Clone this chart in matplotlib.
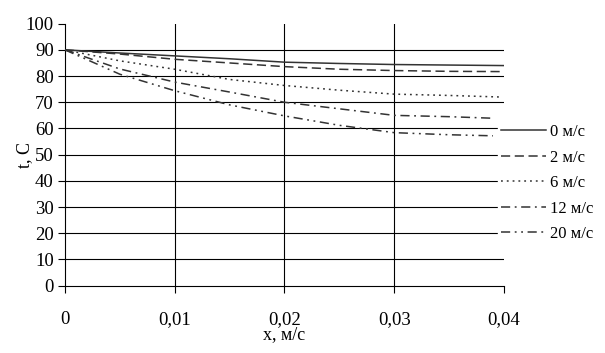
import matplotlib
matplotlib.use('Agg')
import matplotlib.pyplot as plt

# координата, м
x_full = [0, 0.005, 0.01, 0.015, 0.02, 0.025, 0.03, 0.035, 0.04]
x_short = [0, 0.005, 0.01, 0.015, 0.02, 0.025, 0.03, 0.035, 0.039]
x_dot = [0, 0.005, 0.01, 0.015, 0.02, 0.025, 0.03, 0.035, 0.0397]

# температура, C
t_0 = [90, 88.8, 87.7, 86.6, 85.3, 84.8, 84.4, 84.2, 84.0]
t_2 = [90, 88.4, 86.4, 85.0, 83.6, 82.6, 82.1, 81.8, 81.7]
t_6 = [90, 85.8, 82.6, 78.7, 76.4, 74.6, 73.1, 72.6, 72.0]
t_12 = [90, 82.7, 77.7, 73.9, 70.0, 67.5, 65.0, 64.5, 63.9]
t_20 = [90, 80.7, 74.4, 69.0, 64.8, 61.2, 58.4, 57.6, 57.2]

labels = ['0 м/с', '2 м/с', '6 м/с', '12 м/с', '20 м/с']
x_ticks = [0, 0.01, 0.02, 0.03, 0.04]
x_tick_labels = ['0', '0,01', '0,02', '0,03', '0,04']
y_ticks = list(range(0, 101, 10))

plt.rcParams['font.family'] = ['Liberation Serif', 'DejaVu Serif']

fig = plt.figure(figsize=(6.05, 3.53), dpi=100)
ax = fig.add_axes([0.1074, 0.1907, 0.7256, 0.7423])

# сетка
for yv in y_ticks[1:-1]:
    ax.axhline(yv, color='black', lw=0.8, zorder=1)
for xv in x_ticks[1:-1]:
    ax.axvline(xv, color='black', lw=0.8, zorder=1)

col = '#333333'
lw = 1.1
ax.plot(x_full, t_0, color=col, lw=lw, linestyle='-', label=labels[0], zorder=3)
ax.plot(x_full, t_2, color=col, lw=lw, linestyle=(0, (6, 3)), label=labels[1], zorder=3)
ax.plot(x_dot, t_6, color=col, lw=lw, linestyle=(0, (1.2, 2.6)), label=labels[2], zorder=3)
ax.plot(x_short, t_12, color=col, lw=lw, linestyle=(0, (6, 3, 1.2, 3)), label=labels[3], zorder=3)
ax.plot(x_short, t_20, color=col, lw=lw, linestyle=(0, (6, 3, 1.2, 3, 1.2, 3)), label=labels[4], zorder=3)

ax.set_xlim(0, 0.04)
ax.set_ylim(0, 100)
ax.set_xticks(x_ticks)
ax.set_xticklabels(x_tick_labels)
ax.set_yticks(y_ticks)
ax.tick_params(axis='x', direction='out', length=5, width=0.8, pad=13, labelsize=13.5)
ax.tick_params(axis='y', direction='out', length=5, width=0.8, pad=3, labelsize=13.5)
ax.spines['top'].set_visible(False)
ax.spines['right'].set_visible(False)
ax.spines['left'].set_linewidth(0.8)
ax.spines['bottom'].set_linewidth(0.8)

ax.set_xlabel('х, м/с', fontsize=13, labelpad=-1)
ax.set_ylabel('t, C', fontsize=13, labelpad=-5)

leg = ax.legend(loc='upper left', bbox_to_anchor=(498 / 605, 1 - 121 / 353),
                bbox_transform=fig.transFigure, frameon=True, fancybox=False,
                edgecolor='white', facecolor='white', framealpha=1,
                fontsize=12, handlelength=2.65, handletextpad=0.3,
                labelspacing=0.57, borderpad=0.2, borderaxespad=0)
leg.set_zorder(5)

fig.savefig('out.png', dpi=100)
